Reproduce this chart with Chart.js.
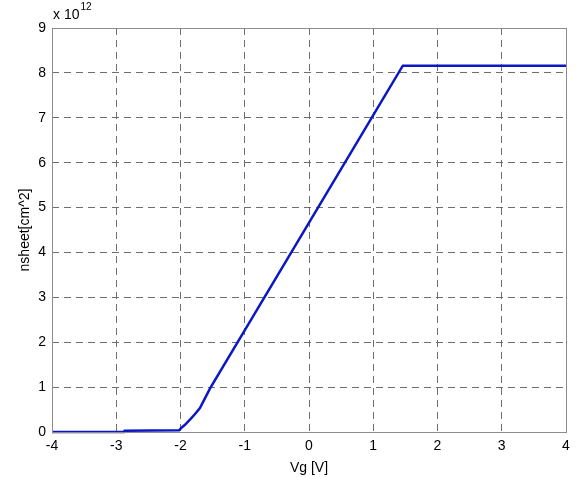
<!DOCTYPE html>
<html>
<head>
<meta charset="utf-8">
<script src="https://cdn.jsdelivr.net/npm/chart.js@4"></script>
<style>
    html, body { margin: 0; padding: 0; background: #fff; }
    #wrap { width: 584px; height: 477px; }
</style>
</head>
<body>
<div id="wrap"><canvas id="chart"></canvas></div>
<script>
// gate voltage [V] and sheet density [x 1e12 cm^-2]
const vg = [-4, -2.88, -2.87, -2.02, -1.98, -1.93, -1.85, -1.78, -1.70, -1.62, -1.54, 1.46, 4];
const nsheet = [0, 0, 0.03, 0.04, 0.10, 0.16, 0.28, 0.39, 0.53, 0.75, 0.97, 8.16, 8.16];
const xTicks = [-4, -3, -2, -1, 0, 1, 2, 3, 4];
const yTicks = [0, 1, 2, 3, 4, 5, 6, 7, 8, 9];
const exponentLabel = "x 10";
const exponentPower = "12";

const FONT = "'Liberation Sans', Arial, sans-serif";
const GRID = "#6e6e6e";
const BOX = "#8c8c8c";

// solid box round the plot + the "x 10^12" multiplier
const boxPlugin = {
    id: "box",
    afterDraw(chart) {
        const { ctx, chartArea: a } = chart;
        ctx.save();
        ctx.strokeStyle = BOX;
        ctx.lineWidth = 1;
        ctx.strokeRect(a.left + 0.5, a.top + 0.5, a.right - a.left, a.bottom - a.top);
        ctx.fillStyle = "#000";
        ctx.textBaseline = "middle";
        ctx.font = `14px ${FONT}`;
        ctx.fillText(exponentLabel, 53, 15);
        const w = ctx.measureText(exponentLabel).width;
        ctx.font = `10px ${FONT}`;
        ctx.fillText(exponentPower, 53 + w + 1, 7);
        ctx.restore();
    }
};

// keep the data as-is, ticks are fixed
const fixedTicks = values => scale => {
    scale.ticks = values.map(v => ({ value: v }));
};

new Chart(document.getElementById("chart"), {
    type: "line",
    plugins: [boxPlugin],
    data: {
        datasets: [{
            data: vg.map((x, i) => ({ x, y: nsheet[i] })),
            borderColor: "#0b16c4",
            borderWidth: 2.5,
            pointRadius: 0,
            tension: 0,
            clip: 4
        }]
    },
    options: {
        responsive: true,
        maintainAspectRatio: false,
        animation: false,
        layout: { padding: { top: 28, right: 18, left: 0, bottom: 0 } },
        plugins: { legend: { display: false }, tooltip: { enabled: false } },
        scales: {
            x: {
                type: "linear",
                min: -4,
                max: 4,
                afterBuildTicks: fixedTicks(xTicks),
                afterFit(scale) { scale.height = 45; },
                grid: {
                    color: ctx => (ctx.tick && (ctx.tick.value === -4 || ctx.tick.value === 4)) ? "rgba(0,0,0,0)" : GRID,
                    drawTicks: false,
                    lineWidth: 1
                },
                border: { display: false, dash: [7, 5] },
                ticks: {
                    color: "#000",
                    padding: 6,
                    font: { family: FONT, size: 14 },
                    maxRotation: 0
                },
                title: {
                    display: true,
                    text: "Vg [V]",
                    color: "#000",
                    font: { family: FONT, size: 14 },
                    padding: { top: 0, bottom: 0 }
                }
            },
            y: {
                type: "linear",
                min: 0,
                max: 9,
                afterBuildTicks: fixedTicks(yTicks),
                afterFit(scale) { scale.width = 52; },
                grid: {
                    color: ctx => (ctx.tick && (ctx.tick.value === 0 || ctx.tick.value === 9)) ? "rgba(0,0,0,0)" : GRID,
                    drawTicks: false,
                    lineWidth: 1
                },
                border: { display: false, dash: [7, 5] },
                ticks: {
                    color: "#000",
                    padding: 6,
                    font: { family: FONT, size: 14 }
                },
                title: {
                    display: true,
                    text: "nsheet[cm^2]",
                    color: "#000",
                    font: { family: FONT, size: 14 },
                    padding: { top: 17, bottom: 4 }
                }
            }
        }
    }
});
</script>
</body>
</html>
